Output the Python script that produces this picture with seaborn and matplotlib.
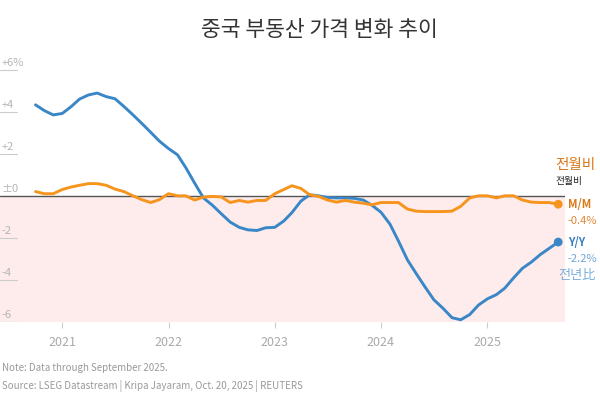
import seaborn as sns
import matplotlib.pyplot as plt
import pandas as pd

sns.set_theme(style="white")
plt.rcParams['font.family'] = ['Noto Sans CJK KR', 'DejaVu Sans']

# monthly, Oct 2020 .. Sep 2025
months = pd.date_range("2020-10-01", periods=60, freq="MS")
yoy = [4.33, 4.05, 3.85, 3.92, 4.25, 4.6, 4.8, 4.89, 4.72, 4.62,
       4.25, 3.85, 3.45, 3.02, 2.6, 2.25, 1.95, 1.35, 0.6, -0.1,
       -0.45, -0.85, -1.25, -1.5, -1.62, -1.65, -1.52, -1.5, -1.2, -0.8,
       -0.25, 0.05, 0.0, -0.08, -0.1, -0.1, -0.12, -0.2, -0.45, -0.78,
       -1.35, -2.15, -3.05, -3.7, -4.35, -4.95, -5.35, -5.8, -5.9, -5.65,
       -5.2, -4.9, -4.7, -4.4, -3.9, -3.45, -3.15, -2.8, -2.5, -2.2]
mom = [0.2, 0.1, 0.1, 0.3, 0.42, 0.5, 0.58, 0.58, 0.5, 0.32,
       0.2, 0.0, -0.18, -0.32, -0.18, 0.1, 0.0, 0.0, -0.2, -0.06,
       -0.03, -0.05, -0.32, -0.22, -0.3, -0.22, -0.22, 0.1, 0.3, 0.48,
       0.35, 0.05, -0.03, -0.2, -0.3, -0.22, -0.3, -0.35, -0.43, -0.32,
       -0.32, -0.32, -0.63, -0.73, -0.75, -0.75, -0.75, -0.73, -0.5, -0.1,
       0.0, 0.0, -0.1, 0.0, 0.0, -0.2, -0.3, -0.32, -0.32, -0.4]
ytick_vals = [6, 4, 2, 0, -2, -4, -6]
ytick_labels = ["+6%", "+4", "+2", "±0", "-2", "-4", "-6"]
years = [2021, 2022, 2023, 2024, 2025]

blue = "#3a87c8"
orange = "#f7941d"

df = pd.DataFrame({"date": list(months) * 2,
                   "value": yoy + mom,
                   "series": ["Y/Y"] * 60 + ["M/M"] * 60})

fig = plt.figure(figsize=(6, 3.94), dpi=100)
ax = fig.add_axes([0.0, 0.183, 0.942, 0.672])

ax.axhspan(-7, 0, color="#fdeceb", zorder=0, lw=0)
ax.axhline(0, color="#555555", lw=1, zorder=1)

sns.lineplot(data=df, x="date", y="value", hue="series",
             palette={"Y/Y": blue, "M/M": orange}, lw=2.1,
             legend=False, ax=ax, zorder=3)

ax.set_xlim(pd.Timestamp("2020-06-01"), pd.Timestamp("2025-09-25"))
ax.set_ylim(-6, 6.6)
for s in ax.spines.values():
    s.set_visible(False)

# y labels sitting on short gridline stubs
ax.set_yticks([])
for v, lab in zip(ytick_vals, ytick_labels):
    if v != 0:
        ax.axhline(v, xmin=0, xmax=0.03, color="#cccccc", lw=0.8, zorder=1)
    ax.annotate(lab, (0, v), xycoords=("axes fraction", "data"),
                xytext=(1, 1.5), textcoords="offset points",
                ha="left", va="bottom", fontsize=8, color="#b5b5b5")

ax.set_xticks([pd.Timestamp(f"{y}-01-01") for y in years])
ax.set_xticklabels([str(y) for y in years], fontsize=9, color="#aaaaaa")
ax.tick_params(axis="x", length=4, width=0.8, color="#cccccc", pad=6, bottom=True)
ax.set_xlabel("")
ax.set_ylabel("")

# end dots and labels
last = months[-1]
ax.scatter([last, last], [mom[-1], yoy[-1]], color=[orange, blue], s=28, zorder=4)
kw = dict(xycoords="data", textcoords="offset points", va="center", ha="left")
ax.annotate("M/M", (last, mom[-1]), xytext=(7, 0), fontsize=8,
            fontweight="bold", color="#d9791a", **kw)
ax.annotate("-0.4%", (last, mom[-1]), xytext=(7, -12), fontsize=8,
            color="#e0883a", **kw)
ax.annotate("전월비", (last, mom[-1]), xytext=(-2, 28), fontsize=10.5,
            color="#d9791a", **kw)
ax.annotate("전월비", (last, mom[-1]), xytext=(-2, 17), fontsize=7,
            color="#222222", **kw)
ax.annotate("Y/Y", (last, yoy[-1]), xytext=(7, 0), fontsize=8,
            fontweight="bold", color="#3a7fc0", **kw)
ax.annotate("-2.2%", (last, yoy[-1]), xytext=(7, -12), fontsize=8,
            color="#6fa6d8", **kw)
ax.annotate("전년比", (last, yoy[-1]), xytext=(0, -24), fontsize=9.5,
            color="#7aaedc", **kw)

fig.text(0.532, 0.925, "중국 부동산 가격 변화 추이", ha="center", va="center",
         fontsize=15.5, color="#333333")
fig.text(0.003, 0.066, "Note: Data through September 2025.", ha="left",
         va="center", fontsize=7, color="#999999")
fig.text(0.003, 0.02, "Source: LSEG Datastream | Kripa Jayaram, Oct. 20, 2025 | REUTERS",
         ha="left", va="center", fontsize=7, color="#999999")

fig.savefig("out.png", dpi=100)
